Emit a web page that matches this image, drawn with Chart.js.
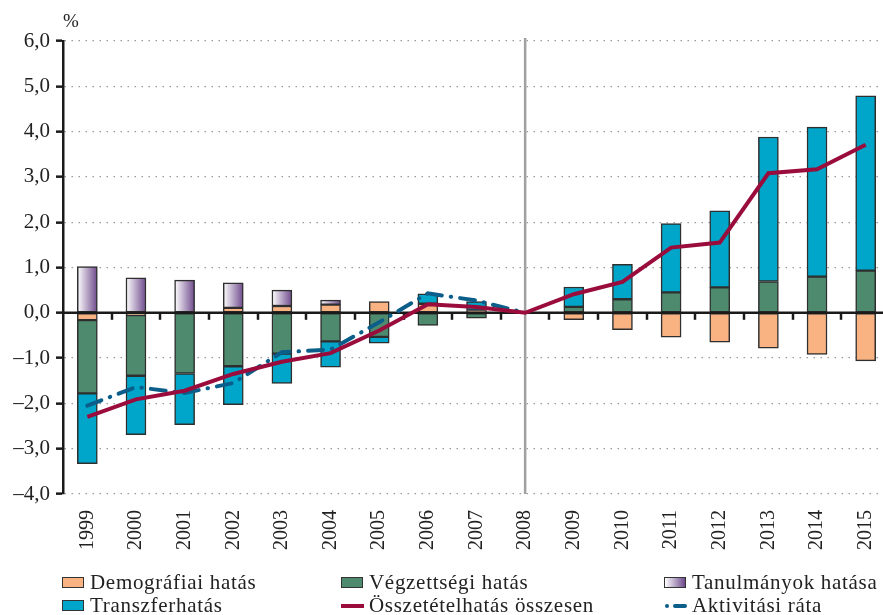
<!DOCTYPE html>
<html>
<head>
<meta charset="utf-8">
<script src="https://cdn.jsdelivr.net/npm/chart.js@4"></script>
<style>
  body { margin: 0; background: #fff; overflow: hidden; }
  #wrap { position: relative; width: 883px; height: 615px; overflow: hidden; font-family: "Liberation Serif", serif; color: #222; }
  #chart { position: absolute; left: 0; top: 0; }
  .leg { position: absolute; font-size: 21px; letter-spacing: 0.7px; line-height: 20px; white-space: nowrap; }
  .box { position: absolute; width: 22px; height: 11px; border: 1.5px solid #333; box-sizing: border-box; }
  .ln { position: absolute; height: 4px; }
</style>
</head>
<body>
<div id="wrap">
  <canvas id="chart" width="890" height="572"></canvas>
  <div id="legend"></div>
</div>
<script>
// categories
const years = ['1999', '2000', '2001', '2002', '2003', '2004', '2005', '2006', '2007',
  '2008', '2009', '2010', '2011', '2012', '2013', '2014', '2015'];

// stacked bar components (%)
const demografiai = [-0.16, -0.05, null, 0.11, 0.15, 0.18, 0.25, 0.20, 0.05,
  null, -0.15, -0.37, -0.54, -0.65, -0.78, -0.92, -1.06];
const vegzettsegi = [-1.62, -1.34, -1.34, -1.18, -0.90, -0.63, -0.53, -0.28, -0.12,
  null, 0.13, 0.30, 0.45, 0.56, 0.69, 0.80, 0.93];
const tanulmanyok = [1.02, 0.77, 0.72, 0.55, 0.35, 0.10, null, null, null,
  null, null, null, null, null, null, null, null];
const transzfer = [-1.55, -1.30, -1.13, -0.85, -0.66, -0.57, -0.14, 0.22, 0.20,
  null, 0.44, 0.77, 1.52, 1.69, 3.19, 3.30, 3.86];

// lines (%)
const osszetetel = [-2.30, -1.91, -1.72, -1.35, -1.08, -0.89, -0.39, 0.19, 0.13,
  0, 0.41, 0.68, 1.44, 1.55, 3.08, 3.17, 3.71];
const aktivitasi = [-2.05, -1.64, -1.77, -1.55, -0.87, -0.81, -0.21, 0.43, 0.27,
  0, null, null, null, null, null, null, null];

// y axis ticks
const yTicks = [6, 5, 4, 3, 2, 1, 0, -1, -2, -3, -4];

const FONT = '"Liberation Serif", serif';
const BAR_W = 20;

// white-to-purple gradient for every Tanulmányok bar
function purpleGradient(ctx) {
  const chart = ctx.chart;
  const x = chart.scales.x;
  if (!x || ctx.dataIndex === undefined) return '#7a5a95';
  const cx = x.getPixelForValue(ctx.dataIndex);
  if (!isFinite(cx)) return '#7a5a95';
  const g = chart.ctx.createLinearGradient(cx - BAR_W / 2, 0, cx + BAR_W / 2, 0);
  g.addColorStop(0, '#ffffff');
  g.addColorStop(1, '#6e4a8c');
  return g;
}

// zero line with category ticks, 2008 divider and the % sign
const decor = {
  id: 'decor',
  afterDatasetDraw(chart, args) {
    if (args.index !== 0) return;
    const c = chart.ctx;
    const x = chart.scales.x;
    const y = chart.scales.y;
    const area = chart.chartArea;
    const y0 = y.getPixelForValue(0);
    c.save();
    c.strokeStyle = '#1a1a1a';
    c.lineWidth = 2.5;
    c.beginPath();
    c.moveTo(area.left, y0);
    c.lineTo(area.right, y0);
    c.stroke();
    const step = x.width / years.length;
    for (let i = 1; i < years.length; i++) {
      const px = Math.round(x.left + i * step);
      c.beginPath();
      c.moveTo(px, y0);
      c.lineTo(px, y0 + 7);
      c.stroke();
    }
    const x08 = x.getPixelForValue(years.indexOf('2008'));
    c.strokeStyle = '#a0a0a0';
    c.lineWidth = 2.5;
    c.beginPath();
    c.moveTo(x08, area.top - 3);
    c.lineTo(x08, area.bottom);
    c.stroke();
    c.restore();
  },
  afterDraw(chart) {
    const c = chart.ctx;
    const area = chart.chartArea;
    c.save();
    c.fillStyle = '#222';
    c.font = '19px ' + FONT;
    c.textAlign = 'center';
    c.textBaseline = 'middle';
    c.fillText('%', area.left + 8, 22);
    c.restore();
  }
};

const barBase = {
  type: 'bar',
  order: 1,
  stack: 'bars',
  borderColor: '#2e2e2e',
  borderWidth: 1.5,
  borderSkipped: false,
  barThickness: BAR_W
};

new Chart(document.getElementById('chart'), {
  data: {
    labels: years,
    datasets: [
      { ...barBase, label: 'Demográfiai hatás', data: demografiai, backgroundColor: '#f9b382' },
      { ...barBase, label: 'Végzettségi hatás', data: vegzettsegi, backgroundColor: '#4e8b6e' },
      { ...barBase, label: 'Tanulmányok hatása', data: tanulmanyok, backgroundColor: purpleGradient },
      { ...barBase, label: 'Transzferhatás', data: transzfer, backgroundColor: '#00a6c9' },
      {
        type: 'line', order: 0, stack: 'total', label: 'Összetételhatás összesen', data: osszetetel,
        borderColor: '#9a0c3b', borderWidth: 4, pointRadius: 0, tension: 0, fill: false
      },
      {
        type: 'line', order: 0, stack: 'activity', label: 'Aktivitási ráta', data: aktivitasi,
        borderColor: '#0b5e8a', borderWidth: 4, borderDash: [15, 9, 0.5, 9], borderCapStyle: 'round',
        pointRadius: 0, tension: 0, fill: false, spanGaps: false
      }
    ]
  },
  options: {
    responsive: false,
    animation: false,
    layout: { padding: { top: 41, right: 0, left: 0, bottom: 0 } },
    plugins: {
      legend: { display: false },
      tooltip: { enabled: false }
    },
    scales: {
      x: {
        stacked: true,
        grid: { display: false, drawTicks: false },
        border: { display: false },
        ticks: {
          minRotation: 90, maxRotation: 90, padding: 16, autoSkip: false,
          color: '#222', font: { family: FONT, size: 20 }
        },
        afterFit(scale) {
          scale.height = 78;
          scale.paddingRight = 0;
          scale.paddingLeft = 0;
        }
      },
      y: {
        stacked: true,
        min: -4, max: 6,
        afterBuildTicks(scale) { scale.ticks = yTicks.map(v => ({ value: v })); },
        grid: {
          color: '#9a9a9a', lineWidth: 1.3, tickColor: '#1a1a1a', tickLength: 7, tickWidth: 2.5
        },
        border: { display: true, color: '#1a1a1a', width: 2.5, dash: [1.5, 5.5] },
        ticks: {
          padding: 6, color: '#222', font: { family: FONT, size: 21 },
          callback: v => (v < 0 ? '\u2013' : '') + Math.abs(v).toFixed(1).replace('.', ',')
        },
        afterFit(scale) { scale.width = 63; }
      }
    }
  },
  plugins: [decor]
});

// legend, three columns by two rows
const legendItems = [
  { text: 'Demográfiai hatás', x: 62, y: 572, kind: 'box', color: '#f9b382' },
  { text: 'Végzettségi hatás', x: 341, y: 572, kind: 'box', color: '#4e8b6e' },
  { text: 'Tanulmányok hatása', x: 664, y: 572, kind: 'box', color: 'linear-gradient(to right, #ffffff, #6e4a8c)' },
  { text: 'Transzferhatás', x: 62, y: 595, kind: 'box', color: '#00a6c9' },
  { text: 'Összetételhatás összesen', x: 341, y: 595, kind: 'line', color: '#9a0c3b' },
  { text: 'Aktivitási ráta', x: 664, y: 595, kind: 'dashdot', color: '#0b5e8a' }
];
const legendEl = document.getElementById('legend');
legendItems.forEach(item => {
  const el = document.createElement('div');
  el.className = 'leg';
  el.style.left = item.x + 'px';
  el.style.top = item.y + 'px';
  el.style.width = '260px';
  el.style.height = '20px';
  let icon = '';
  if (item.kind === 'box') {
    icon = '<span class="box" style="left:0;top:5px;background:' + item.color + '"></span>';
  } else if (item.kind === 'line') {
    icon = '<span class="ln" style="left:0;top:9px;width:23px;background:' + item.color + '"></span>';
  } else {
    icon = '<span class="ln" style="left:1px;top:9px;width:4px;border-radius:2px;background:' + item.color + '"></span>' +
      '<span class="ln" style="left:9px;top:9px;width:14px;border-radius:2px;background:' + item.color + '"></span>';
  }
  el.innerHTML = icon + '<span style="position:absolute;left:28px;top:0">' + item.text + '</span>';
  legendEl.appendChild(el);
});
</script>
</body>
</html>
